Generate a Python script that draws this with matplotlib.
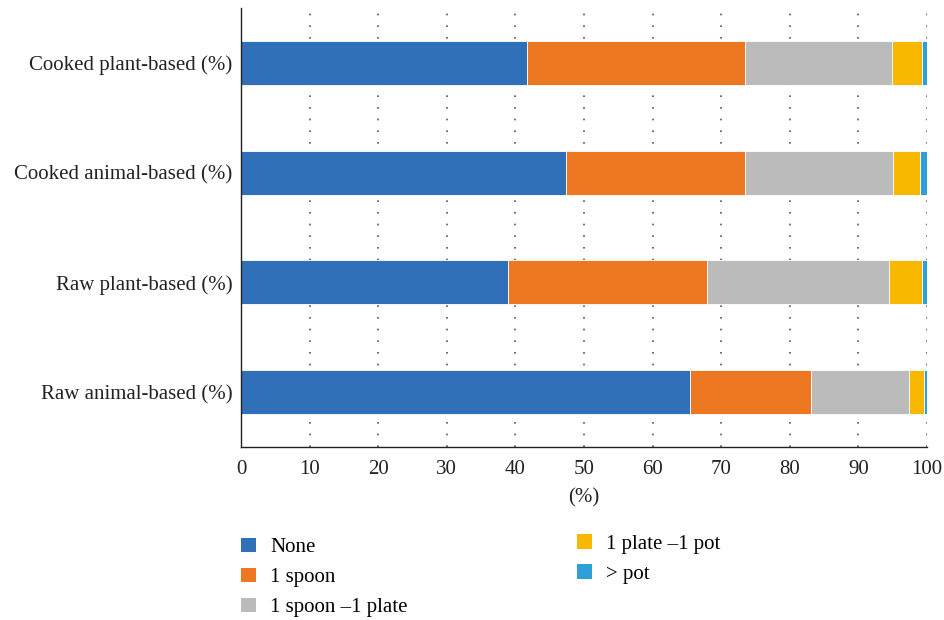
import numpy as np
import matplotlib
matplotlib.use("Agg")
import matplotlib.pyplot as plt
from matplotlib.patches import Patch

plt.rcParams['font.family'] = ['Liberation Serif', 'DejaVu Serif']

# categories, bottom to top
categories = ['Raw animal-based (%)', 'Raw plant-based (%)',
              'Cooked animal-based (%)', 'Cooked plant-based (%)']

none_vals = [65.5, 38.9, 47.4, 41.7]
spoon_vals = [17.6, 29.0, 26.1, 31.8]
spoon_plate_vals = [14.3, 26.6, 21.6, 21.4]
plate_pot_vals = [2.1, 4.7, 3.9, 4.3]
over_pot_vals = [0.5, 0.8, 1.0, 0.8]

series_names = ['None', '1 spoon', '1 spoon \u20131 plate', '1 plate \u20131 pot', '> pot']
colors = ['#3070b8', '#ee7722', '#bbbbbb', '#f8b800', '#2e9fd8']

series = [none_vals, spoon_vals, spoon_plate_vals, plate_pot_vals, over_pot_vals]

fig = plt.figure(figsize=(9.44, 6.2), dpi=100)
ax = fig.add_axes([0.2553, 0.279, 0.7267, 0.708])

y = np.arange(len(categories))
left = np.zeros(len(categories))
for vals, name, c in zip(series, series_names, colors):
    ax.barh(y, vals, height=0.4, left=left, color=c, edgecolor='white',
            linewidth=0.6, label=name, zorder=2)
    left += np.array(vals)

ax.set_xlim(0, 100)
ax.set_ylim(-0.5, 3.5)
ax.set_xticks(np.arange(0, 101, 10))
ax.set_yticks(y)
ax.set_yticklabels(categories)
ax.tick_params(axis='both', length=0, labelsize=15, colors='#222222', pad=6)
ax.tick_params(axis='x', pad=9)
ax.set_xlabel('(%)', fontsize=15, color='#222222', labelpad=7)

# sparse dotted vertical grid
ax.xaxis.grid(True, linestyle=(0, (1, 6)), linewidth=1.2, color='#555555', zorder=0)
ax.set_axisbelow(True)
for s in ['top', 'right']:
    ax.spines[s].set_visible(False)
for s in ['left', 'bottom']:
    ax.spines[s].set_color('#222222')
    ax.spines[s].set_linewidth(1.0)

# legend: first three on the left, last two on the right
handles = [Patch(facecolor=c, edgecolor='none') for c in colors]
leg_kw = dict(loc='upper left', frameon=False, fontsize=15, handlelength=0.7,
              handleheight=0.7, handletextpad=0.7, labelspacing=0.5,
              borderaxespad=0, borderpad=0)
fig.legend(handles[:3], series_names[:3], bbox_to_anchor=(0.2555, 0.133), **leg_kw)
fig.legend(handles[3:], series_names[3:], bbox_to_anchor=(0.6115, 0.138), **leg_kw)

fig.savefig('out.png', dpi=100)
